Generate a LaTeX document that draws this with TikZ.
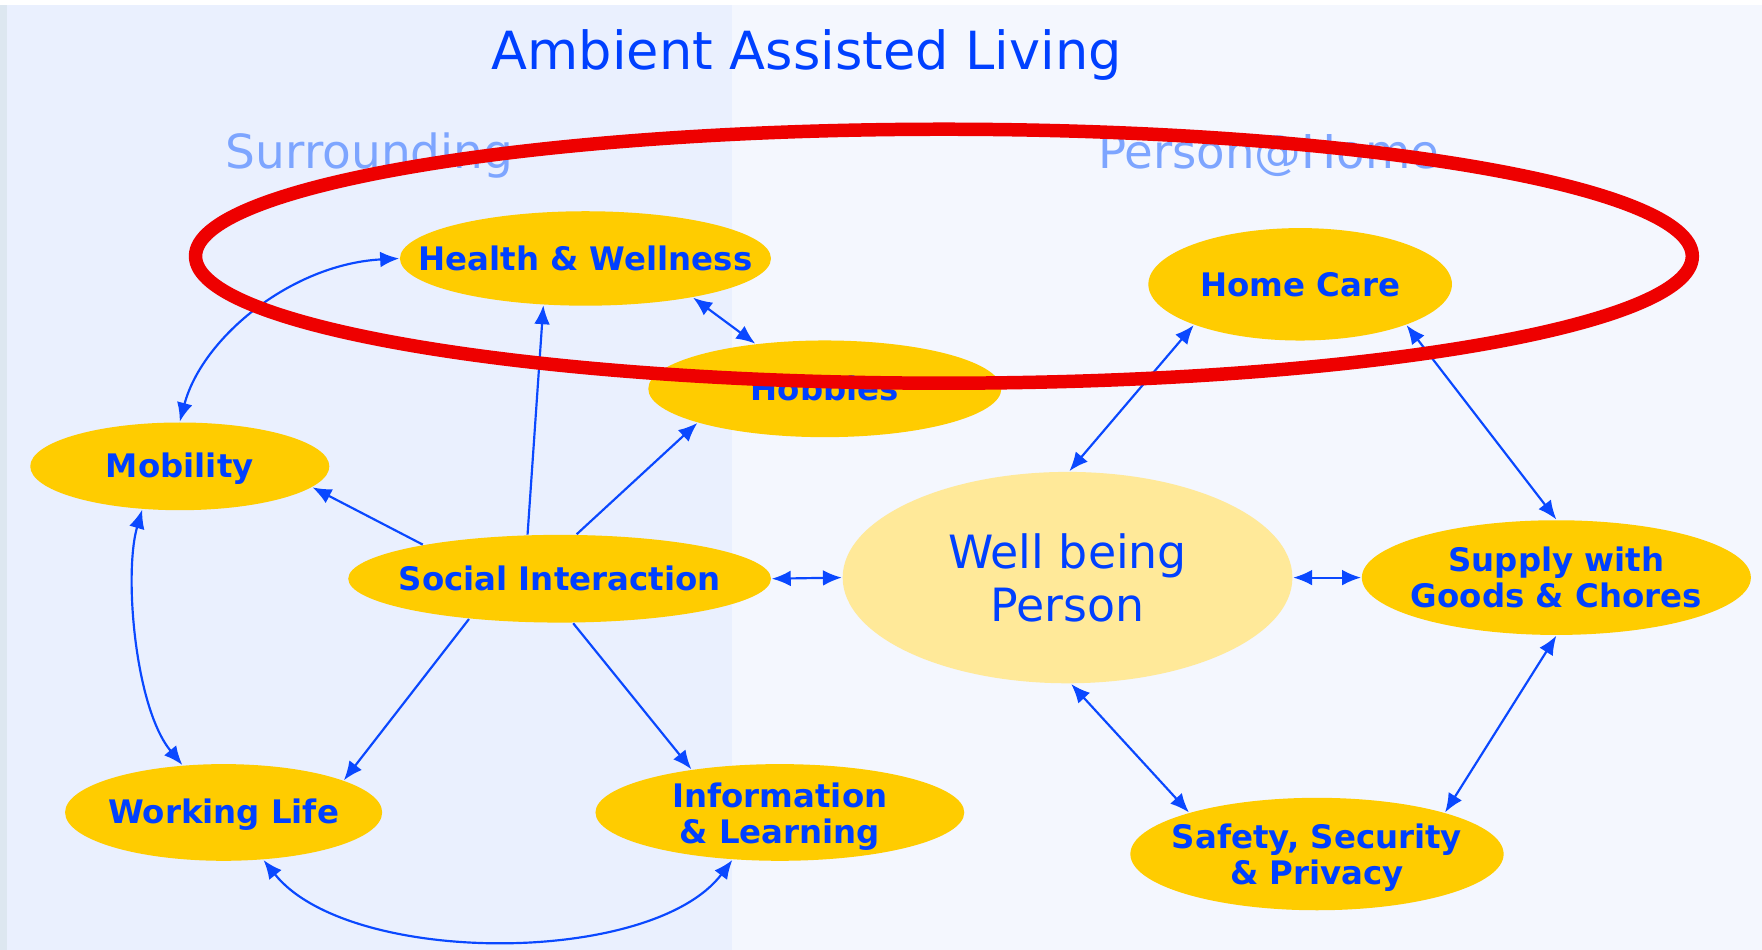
\documentclass[tikz,border=0pt]{standalone}
\usepackage{fontspec}
\setmainfont{DejaVu Sans}
\usetikzlibrary{arrows.meta,shapes.geometric}
\definecolor{txtblue}{RGB}{0,64,255}
\definecolor{arrblue}{RGB}{10,72,255}
\definecolor{subblue}{RGB}{125,165,255}
\definecolor{nodeyel}{RGB}{255,204,0}
\definecolor{wellyel}{RGB}{255,233,153}
\definecolor{leftbg}{RGB}{234,240,254}
\definecolor{rightbg}{RGB}{244,247,254}
\definecolor{edgebg}{RGB}{221,231,240}
\definecolor{ringred}{RGB}{238,0,0}
\begin{document}
\begin{tikzpicture}[x=0.01cm,y=-0.01cm,
  topic/.style={ellipse, fill=nodeyel, draw=none, inner sep=0pt},
  lbl/.style={font=\fontsize{8.2pt}{9.2pt}\selectfont\bfseries, text=txtblue, align=center, inner sep=0pt},
  lnk/.style={draw=arrblue, line width=0.55pt},
  lnktwo/.style={lnk, {Latex[length=4.8pt,width=4pt]}-{Latex[length=4.8pt,width=4pt]}},
  lnkone/.style={lnk, -{Latex[length=4.8pt,width=4pt]}}]
\useasboundingbox (0,0) rectangle (1568,845);
% background
\fill[white] (0,0) rectangle (1568,845);
\fill[edgebg] (0,4.5) rectangle (6,845);
\fill[leftbg] (6,4.5) rectangle (651,845);
\fill[rightbg] (651,4.5) rectangle (1568,845);
% titles
\node[anchor=base, inner sep=0pt, font=\fontsize{13.3pt}{16pt}\selectfont, text=txtblue] (title) at (718,62) {Ambient Assisted Living};
\node[anchor=base, inner sep=0pt, font=\fontsize{11.9pt}{14pt}\selectfont, text=subblue] (surr) at (329,150) {Surrounding};
\node[anchor=base, inner sep=0pt, font=\fontsize{11.8pt}{14pt}\selectfont, text=subblue] (pah) at (1129,150) {Person@Home};
% nodes
\node[topic, minimum width=3.30cm, minimum height=0.84cm, label={[lbl]center:{Health \& Wellness}}] (hw) at (521,230) {};
\node[topic, minimum width=3.14cm, minimum height=0.86cm, label={[lbl]center:{Hobbies}}] (hob) at (734,346) {};
\node[topic, minimum width=2.70cm, minimum height=1.00cm, label={[lbl]center:{Home Care}}] (hc) at (1157,253) {};
\node[topic, minimum width=2.66cm, minimum height=0.78cm, label={[lbl, yshift=-0.6pt]center:{Mobility}}] (mob) at (160,415) {};
\node[topic, minimum width=3.76cm, minimum height=0.78cm, label={[lbl]center:{Social Interaction}}] (si) at (498,515) {};
\node[ellipse, fill=wellyel, draw=none, inner sep=0pt, minimum width=4.00cm, minimum height=1.88cm,
  label={[inner sep=0pt, align=center, text=txtblue, font=\fontsize{11.6pt}{13.4pt}\selectfont]center:{Well being\\Person}}] (wb) at (950,514) {};
\node[topic, minimum width=3.46cm, minimum height=1.02cm, label={[lbl]center:{Supply with\\Goods \& Chores}}] (sup) at (1385,514) {};
\node[topic, minimum width=2.82cm, minimum height=0.86cm, label={[lbl, yshift=-0.6pt]center:{Working Life}}] (wl) at (199,723) {};
\node[topic, minimum width=3.28cm, minimum height=0.86cm, label={[lbl, yshift=-1pt]center:{Information\\\& Learning}}] (il) at (694,723) {};
\node[topic, minimum width=3.32cm, minimum height=1.00cm, label={[lbl, yshift=-1pt]center:{Safety, Security\\\& Privacy}}] (saf) at (1172,760) {};
% connectors
\draw[lnktwo] (hw.180) .. controls (260,235) and (180,300) .. (mob.90);
\draw[lnktwo] (hw.-20) -- (hob.147);
\draw[lnkone] (si.126) -- (hw.-132);
\draw[lnkone] (si.69) -- (hob.-165);
\draw[lnkone] (si.166) -- (mob.-9.5);
\draw[lnktwo] (si.0) -- (wb.180);
\draw[lnkone] (si.-156) -- (wl.15);
\draw[lnkone] (si.-73) -- (il.154);
\draw[lnktwo] (mob.-131) .. controls (110,510) and (120,630) .. (wl.131);
\draw[lnktwo] (wl.-50) .. controls (310,860) and (580,860) .. (il.-135);
\draw[lnktwo] (hc.-159) -- (wb.89);
\draw[lnktwo] (hc.-21) -- (sup.90);
\draw[lnktwo] (wb.0) -- (sup.180);
\draw[lnktwo] (wb.-88) -- (saf.162);
\draw[lnktwo] (sup.-90) -- (saf.18);
% red highlight ring
\draw[ringred, line width=0.12cm] (840,228) ellipse [x radius=666, y radius=113];
\end{tikzpicture}
\end{document}
